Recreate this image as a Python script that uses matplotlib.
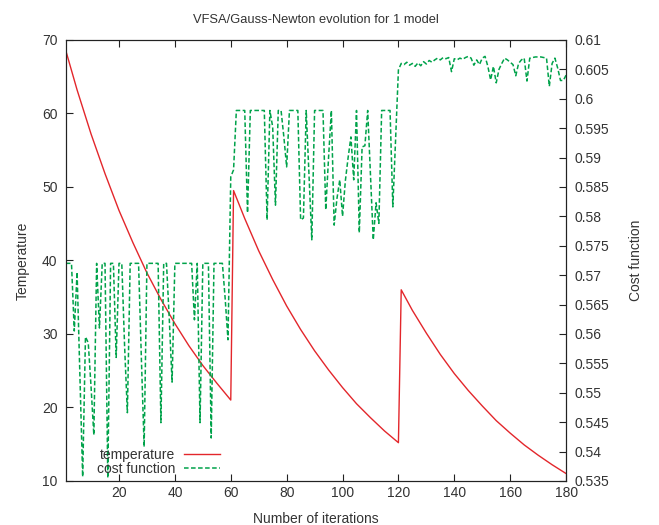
import numpy as np
import matplotlib
matplotlib.use("Agg")
import matplotlib.pyplot as plt

plt.rcParams['font.family'] = ['Liberation Sans', 'DejaVu Sans']

# temperature (three annealing restarts)
temp_iter = [1, 5, 10, 15, 20, 25, 30, 35, 40, 45, 50, 55, 60,
             61, 65, 70, 75, 80, 85, 90, 95, 100, 105, 110, 115, 120,
             121, 125, 130, 135, 140, 145, 150, 155, 160, 165, 170, 175, 180]
temp_vals = [68.5, 63.2, 57.2, 51.8, 46.8, 42.4, 38.3, 34.7, 31.4, 28.4, 25.7, 23.3, 21.0,
             49.5, 45.7, 41.3, 37.4, 33.8, 30.6, 27.7, 25.1, 22.7, 20.5, 18.6, 16.8, 15.2,
             36.0, 33.2, 30.1, 27.2, 24.6, 22.3, 20.2, 18.2, 16.5, 14.9, 13.5, 12.2, 11.0]

# cost function, one value per iteration (1..180)
cost_seg1 = [0.572, 0.572, 0.572, 0.5605, 0.5705, 0.553, 0.5357, 0.5595, 0.5585, 0.551,
             0.5428, 0.572, 0.561, 0.572, 0.572, 0.5355, 0.572, 0.572, 0.556, 0.572,
             0.572, 0.558, 0.5466, 0.572, 0.572, 0.572, 0.572, 0.556, 0.5408, 0.572,
             0.572, 0.572, 0.572, 0.572, 0.5449, 0.572, 0.572, 0.5625, 0.5518, 0.572,
             0.572, 0.572, 0.572, 0.572, 0.572, 0.572, 0.5624, 0.572, 0.5449, 0.572,
             0.572, 0.572, 0.5423, 0.572, 0.572, 0.572, 0.572, 0.566, 0.559, 0.5867]
cost_seg2 = [0.5879, 0.598, 0.598, 0.598, 0.598, 0.5806, 0.598, 0.598, 0.598, 0.598,
             0.598, 0.598, 0.5794, 0.598, 0.5952, 0.5819, 0.598, 0.598, 0.5935, 0.5884,
             0.598, 0.598, 0.598, 0.598, 0.5794, 0.5797, 0.598, 0.587, 0.576, 0.598,
             0.598, 0.598, 0.598, 0.5811, 0.590, 0.598, 0.5785, 0.583, 0.5862, 0.580,
             0.586, 0.590, 0.5935, 0.5862, 0.598, 0.5772, 0.5918, 0.5920, 0.598, 0.587,
             0.576, 0.5823, 0.5788, 0.598, 0.598, 0.598, 0.598, 0.5816, 0.5932, 0.6049]
cost_seg3 = [0.6060, 0.6058, 0.6062, 0.6057, 0.6060, 0.6055, 0.6061, 0.6056, 0.6063, 0.6059,
             0.6065, 0.6062, 0.6066, 0.6069, 0.6066, 0.6070, 0.6068, 0.6070, 0.6046, 0.6068,
             0.6066, 0.6069, 0.6067, 0.6070, 0.6072, 0.6069, 0.6057, 0.6066, 0.6058, 0.6069,
             0.6072, 0.6055, 0.6032, 0.6055, 0.6027, 0.6050, 0.6060, 0.6069, 0.6066, 0.6062,
             0.6058, 0.6039, 0.6060, 0.6066, 0.6069, 0.6030, 0.6069, 0.6070, 0.6071, 0.6071,
             0.6071, 0.6070, 0.6069, 0.6021, 0.6060, 0.6069, 0.6052, 0.6031, 0.6031, 0.6040]
cost_vals = cost_seg1 + cost_seg2 + cost_seg3
cost_iter = list(range(1, len(cost_vals) + 1))

red = '#e3262b'
green = '#00a24a'
txt = '#333333'

fig = plt.figure(figsize=(6.59, 5.25), dpi=100)
ax = fig.add_axes([0.100, 0.084, 0.759, 0.840])
ax2 = ax.twinx()

l1, = ax.plot(temp_iter, temp_vals, color=red, lw=1.0, label='temperature')
l2, = ax2.plot(cost_iter, cost_vals, color=green, lw=1.1, dashes=(3, 1.6), label='cost function')

ax.set_xlim(1, 180)
ax.set_ylim(10, 70)
ax2.set_ylim(0.535, 0.61)
ax.set_xticks(np.arange(20, 181, 20))
ax.set_yticks(np.arange(10, 71, 10))
ax2.set_yticks(np.arange(0.535, 0.6101, 0.005))
ax2.set_yticklabels(['%g' % round(v, 3) for v in np.arange(0.535, 0.6101, 0.005)])

ax.tick_params(axis='x', direction='in', top=True, length=5, width=0.8, labelsize=10, colors='#222222', labelcolor=txt, pad=4)
ax.tick_params(axis='y', direction='in', length=5, width=0.8, labelsize=10, colors='#222222', labelcolor=txt, pad=6)
ax2.tick_params(axis='y', direction='in', length=5, width=0.8, labelsize=10, colors='#222222', labelcolor=txt, pad=6)
for a in (ax, ax2):
    for s in a.spines.values():
        s.set_linewidth(0.8)
        s.set_color('#222222')

ax.set_title('VFSA/Gauss-Newton evolution for 1 model', fontsize=9.3, color=txt, pad=12)
ax.set_xlabel('Number of iterations', fontsize=10, color=txt, labelpad=8)
ax.set_ylabel('Temperature', fontsize=10, color=txt, labelpad=9)
ax2.set_ylabel('Cost function', fontsize=10, color=txt, labelpad=14)

ax2.legend([l1, l2], ['temperature', 'cost function'], loc='lower right',
           bbox_to_anchor=(0.308, 0.012), markerfirst=False, frameon=False,
           fontsize=10, handlelength=2.6, handletextpad=0.6, labelspacing=0.0,
           borderpad=0, borderaxespad=0, labelcolor=txt)

fig.savefig('out.png', dpi=100)
